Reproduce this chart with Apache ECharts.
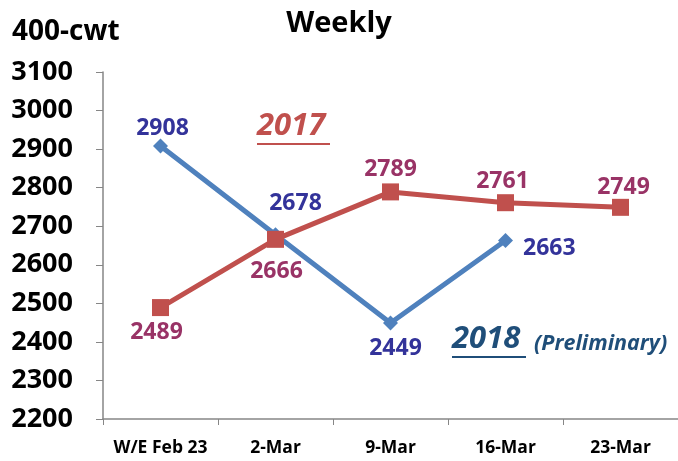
<!DOCTYPE html>
<html><head><meta charset="utf-8">
<script src="https://cdn.jsdelivr.net/npm/echarts@6/dist/echarts.min.js"></script>
<style>html,body{margin:0;padding:0;background:#fff}#c{width:678px;height:461px}</style>
</head><body><div id="c"></div>
<script>
var categories = ['W/E Feb 23', '2-Mar', '9-Mar', '16-Mar', '23-Mar'];
var values2018 = [2908, 2678, 2449, 2663, null];
var values2017 = [2489, 2666, 2789, 2761, 2749];
var labelPos2018 = ['top', 'top', 'bottom', 'right', 'top'];
var labelPos2017 = ['bottom', 'bottom', 'top', 'top', 'top'];
var yMin = 2200, yMax = 3100, yStep = 100;

var FONT = '"Open Sans", sans-serif';
var chart = echarts.init(document.getElementById('c'), null, {renderer: 'canvas'});

function mk(vals, pos, offs) {
  return vals.map(function (v, i) {
    return {value: v, label: {position: pos[i], offset: offs[i]}};
  });
}

chart.setOption({
  animation: false,
  backgroundColor: '#fff',
  grid: {left: 103, top: 72, height: 347, width: 579},
  xAxis: {
    type: 'category', data: categories, boundaryGap: true,
    axisLine: {lineStyle: {color: '#868686', width: 1.5}},
    axisTick: {show: true, length: 6, alignWithLabel: false, lineStyle: {color: '#868686'}},
    axisLabel: {color: '#000', fontWeight: 'bold', fontSize: 17.5, fontFamily: FONT, margin: 20, interval: 0},
    splitLine: {show: false}
  },
  yAxis: {
    type: 'value', min: yMin, max: yMax, interval: yStep,
    axisLine: {show: true, lineStyle: {color: '#868686', width: 1.5}},
    axisTick: {show: true, length: 7, lineStyle: {color: '#868686'}},
    axisLabel: {color: '#000', fontWeight: 'bold', fontSize: 27, fontFamily: FONT, margin: 30,
      formatter: function (v) { return String(v); }},
    splitLine: {show: false}
  },
  series: [
    {
      name: '2018', type: 'line', data: mk(values2018, labelPos2018, [[2, 5], [20, -8], [5, 2], [6, 8], [0, 0]]),
      connectNulls: false,
      symbol: 'diamond', symbolSize: 15,
      lineStyle: {color: '#4F81BD', width: 5},
      itemStyle: {color: '#4F81BD'},
      label: {show: true, color: '#33339A', fontWeight: 'bold', fontSize: 23, fontFamily: FONT, distance: 4},
      z: 2
    },
    {
      name: '2017', type: 'line', data: mk(values2017, labelPos2017, [[-4, 1], [1, 8], [0, 2], [-3, 3], [3, 4]]),
      symbol: 'rect', symbolSize: 17,
      lineStyle: {color: '#C0504D', width: 5},
      itemStyle: {color: '#C0504D'},
      label: {show: true, color: '#993366', fontWeight: 'bold', fontSize: 23, fontFamily: FONT, distance: 4},
      z: 3
    }
  ],
  graphic: [
    {type: 'text', left: 'center', top: 9, style: {text: 'Weekly', font: 'bold 29px ' + FONT, fill: '#000'}},
    {type: 'text', left: 12, top: 18, style: {text: '400-cwt', font: 'bold 28px ' + FONT, fill: '#000'}},
    {type: 'text', left: 257, top: 111, style: {text: '2017', font: 'italic bold 31px ' + FONT, fill: '#C0504D'}},
    {type: 'line', shape: {x1: 257, y1: 144, x2: 330, y2: 144}, style: {stroke: '#C0504D', lineWidth: 2}},
    {type: 'text', left: 452, top: 324, style: {text: '2018', font: 'italic bold 31px ' + FONT, fill: '#1F4E79'}},
    {type: 'line', shape: {x1: 452, y1: 357, x2: 526, y2: 357}, style: {stroke: '#1F4E79', lineWidth: 2}},
    {type: 'text', left: 534, top: 333, style: {text: '(Preliminary)', font: 'italic bold 21.5px ' + FONT, fill: '#1F4E79'}}
  ]
});
</script></body></html>
